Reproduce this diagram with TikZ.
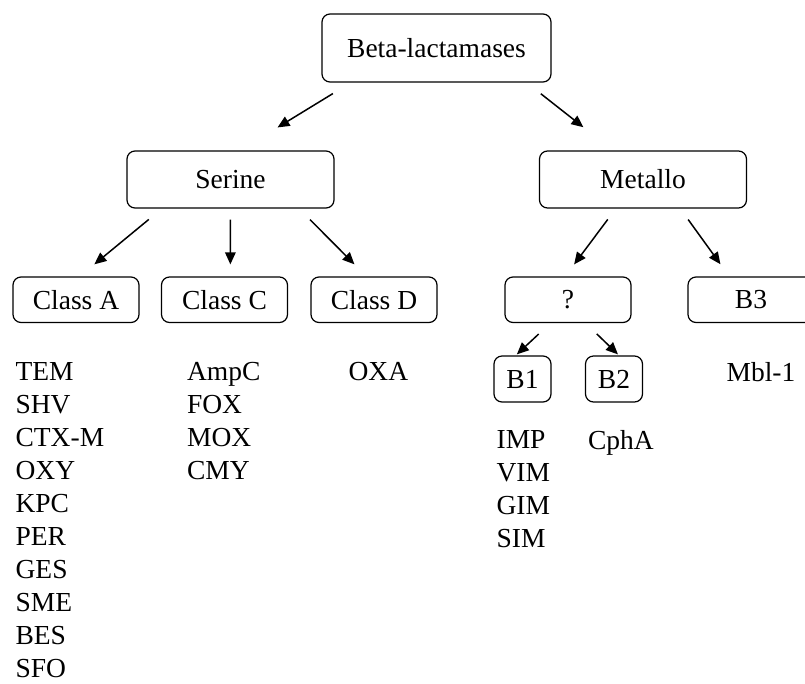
\documentclass[tikz,border=0pt]{standalone}
\usepackage{fontspec}
\setmainfont{Liberation Serif}
\usetikzlibrary{positioning,arrows.meta}

\tikzset{
  box/.style = {draw=black, rounded corners=8pt, line width=1.2pt, align=center,
    inner sep=0pt, font=\fontsize{27.5}{33}\selectfont},
  topbox/.style = {box, minimum width=229pt, minimum height=68pt},
  midbox/.style = {box, minimum width=207pt, minimum height=57pt},
  classbox/.style = {box, minimum width=126pt, minimum height=45.5pt},
  subbox/.style = {box, minimum width=57pt, minimum height=46pt},
  members/.style = {anchor=north west, align=left, inner sep=0pt,
    font=\fontsize{27.5}{33}\selectfont},
  arrow/.style = {line width=1.5pt, -{Triangle[length=12pt,width=10.5pt]}}
}

\begin{document}
\begin{tikzpicture}[on grid]
\useasboundingbox (0,0) rectangle (805pt,-683pt);
% boxes
\node [topbox] (root) at (436.5pt,-48pt) {Beta-lactamases};
\node [midbox, below left=131.5pt and 206pt of root] (serine) {Serine};
\node [midbox, below right=131.5pt and 206.5pt of root] (metallo) {Metallo};
\node [classbox, below left=120.25pt and 154.5pt of serine] (classA) {Class A};
\node [classbox, below left=120.25pt and 6pt of serine] (classC) {Class C};
\node [classbox, below right=120.25pt and 143.5pt of serine] (classD) {Class D};
\node [classbox, below left=120.25pt and 75pt of metallo] (unknown) {?};
\node [classbox, below right=120.25pt and 108pt of metallo] (bthree) {B3};
\node [subbox, below left=79.25pt and 45.5pt of unknown] (bone) {B1};
\node [subbox, below right=79.25pt and 46pt of unknown] (btwo) {B2};

% enzymes
\node [members] (listA) at ([xshift=3pt,yshift=-39pt]classA.south west)
  {TEM\\SHV\\CTX-M\\OXY\\KPC\\PER\\GES\\SME\\BES\\SFO};
\node [members] (listC) at ([xshift=26pt,yshift=-39pt]classC.south west)
  {AmpC\\FOX\\MOX\\CMY};
\node [members] (listD) at ([xshift=38pt,yshift=-39pt]classD.south west) {OXA};
\node [members] (listBthree) at ([xshift=39pt,yshift=-39pt]bthree.south west) {Mbl-1};
\node [members] (listBone) at ([xshift=3pt,yshift=-28pt]bone.south west)
  {IMP\\VIM\\GIM\\SIM};
\node [members] (listBtwo) at ([xshift=3pt,yshift=-28pt]btwo.south west) {CphA};

% arrows
\draw [arrow, shorten <=21pt, shorten >=44pt] (root.202) -- (serine.72);
\draw [arrow, shorten <=18pt, shorten >=37.5pt] (root.339) -- (metallo.136);
\draw [arrow, shorten <=17pt, shorten >=19pt] (serine.203) -- (classA.81.5);
\draw [arrow, shorten <=11pt, shorten >=12pt] (serine.south) -- (classC.76);
\draw [arrow, shorten <=15.5pt, shorten >=17pt] (serine.337.5) -- (classD.108);
\draw [arrow, shorten <=13.5pt, shorten >=15pt] (metallo.227) -- (unknown.97);
\draw [arrow, shorten <=13.5pt, shorten >=15pt] (metallo.322.5) -- (bthree.133);
\draw [arrow, shorten <=16pt, shorten >=1.5pt] (unknown.233) -- (bone.106);
\draw [arrow, shorten <=15.5pt, shorten >=1.5pt] (unknown.307.5) -- (btwo.78);
\end{tikzpicture}
\end{document}
